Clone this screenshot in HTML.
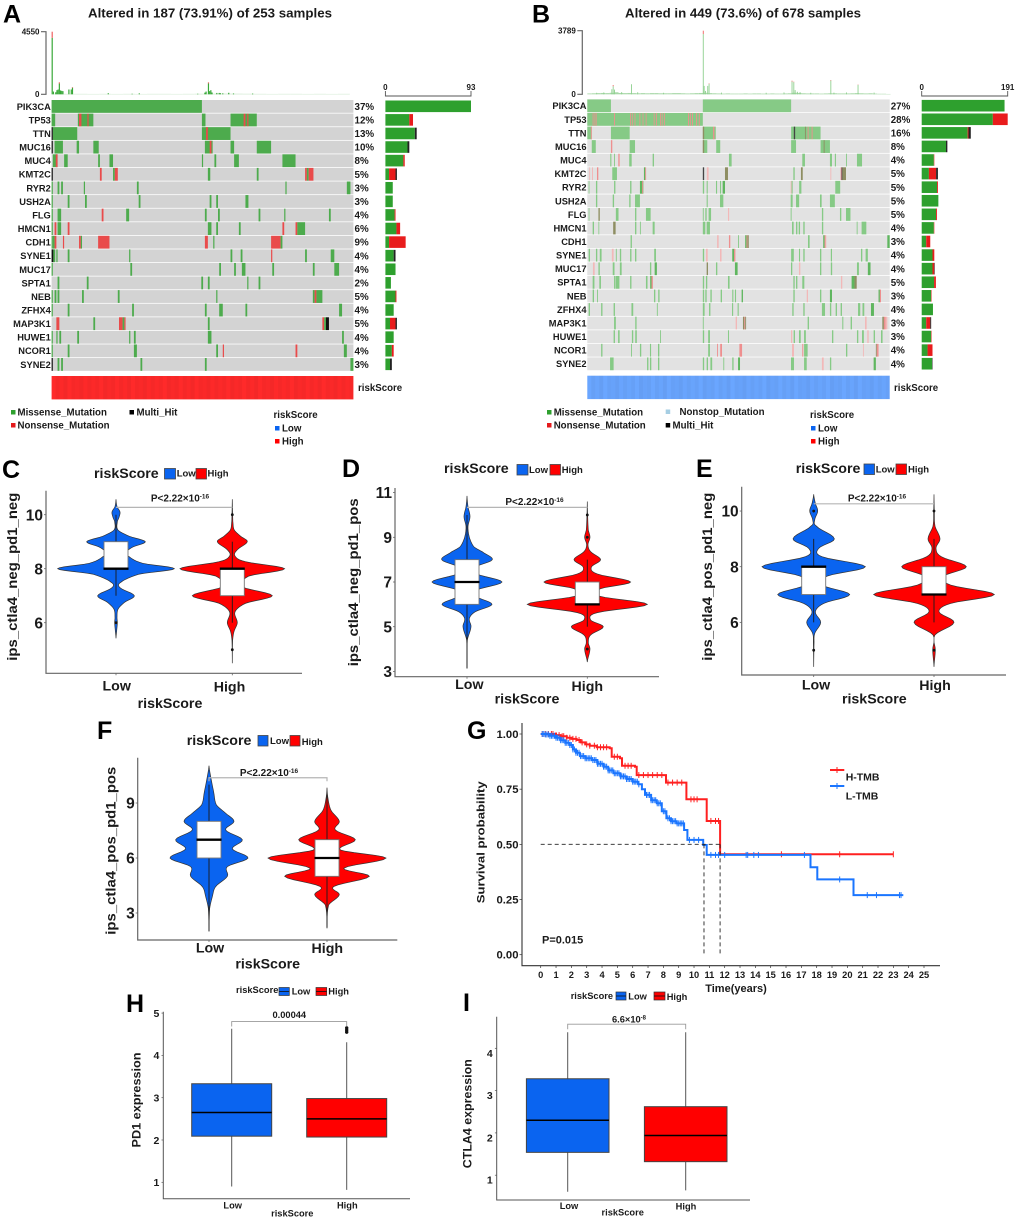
<!DOCTYPE html>
<html lang="en">
<head>
<meta charset="utf-8">
<title>Mutation landscape, immunophenoscore, survival and checkpoint expression by riskScore</title>
<style>
html,body{margin:0;padding:0;background:#fff;}
svg{display:block;filter:blur(.3px);}
text{font-family:"Liberation Sans",sans-serif;font-weight:bold;fill:#1a1a1a;}
.letter{font-size:25px;fill:#000;}
.title{font-size:12.5px;}
.lg{font-size:9.7px;}
.vt{font-size:14.2px;}
.vk{font-size:9.5px;}
.vp{font-size:10px;}
.vx{font-size:14.2px;}
.bk{font-size:9.3px;}
</style>
</head>
<body>
<svg id="figure" width="1020" height="1221" viewBox="0 0 1020 1221" xmlns="http://www.w3.org/2000/svg">
<rect x="0" y="0" width="1020" height="1221" fill="#fff"/>
<g id="marks"></g>

<text class="letter" x="3" y="22.5">A</text>
<text class="letter" x="532" y="22.5">B</text>
<text class="letter" x="2" y="478">C</text>
<text class="letter" x="342" y="477">D</text>
<text class="letter" x="696" y="477">E</text>
<text class="letter" x="97" y="739">F</text>
<text class="letter" x="467" y="739">G</text>
<text class="letter" x="126" y="1012">H</text>
<text class="letter" x="463" y="1011">I</text>

<text class="title" x="88" y="17.5" textLength="244" lengthAdjust="spacingAndGlyphs">Altered in 187 (73.91%) of 253 samples</text>
<text class="title" x="625" y="17.5" textLength="236" lengthAdjust="spacingAndGlyphs">Altered in 449 (73.6%) of 678 samples</text>

<g>
<text class="lg" x="358" y="391">riskScore</text>
<rect x="11" y="410" width="4.5" height="4.5" fill="#2ea02e"/>
<text class="lg" x="17.5" y="415.5">Missense_Mutation</text>
<rect x="11" y="423" width="4.5" height="4.5" fill="#e41a1c"/>
<text class="lg" x="17.5" y="428.5">Nonsense_Mutation</text>
<rect x="129.5" y="410" width="4.5" height="4.5" fill="#000"/>
<text class="lg" x="136.5" y="415.5">Multi_Hit</text>
<text class="lg" x="273.5" y="418">riskScore</text>
<rect x="275" y="426" width="4.5" height="4.5" fill="#0a64f0"/>
<text class="lg" x="282" y="431.5">Low</text>
<rect x="275" y="439" width="4.5" height="4.5" fill="#ff0000"/>
<text class="lg" x="282" y="444.5">High</text>
</g>

<g>
<text class="lg" x="894" y="391">riskScore</text>
<rect x="547" y="410" width="4.5" height="4.5" fill="#2ea02e"/>
<text class="lg" x="553.7" y="415.5">Missense_Mutation</text>
<rect x="547" y="423" width="4.5" height="4.5" fill="#e41a1c"/>
<text class="lg" x="553.7" y="428.5">Nonsense_Mutation</text>
<rect x="665.7" y="409.5" width="4.5" height="4.5" fill="#a6cee3"/>
<text class="lg" x="679.5" y="415">Nonstop_Mutation</text>
<rect x="665.7" y="423" width="4.5" height="4.5" fill="#000"/>
<text class="lg" x="672.5" y="428.5">Multi_Hit</text>
<text class="lg" x="810" y="418">riskScore</text>
<rect x="811" y="426" width="4.5" height="4.5" fill="#0a64f0"/>
<text class="lg" x="818" y="431.5">Low</text>
<rect x="811" y="439" width="4.5" height="4.5" fill="#ff0000"/>
<text class="lg" x="818" y="444.5">High</text>
</g>

<!-- Panel C -->
<g>
<text class="vt" x="94" y="478">riskScore</text>
<rect x="164.5" y="468.5" width="11" height="10.5" fill="#0a64f0" stroke="#444" stroke-width=".8"/>
<text class="vk" x="176.7" y="476.5">Low</text>
<rect x="196" y="468.5" width="10.5" height="10.5" fill="#f00" stroke="#444" stroke-width=".8"/>
<text class="vk" x="207.5" y="476.5">High</text>
<text class="vp" x="180" y="501.5" text-anchor="middle">P&lt;2.22×10<tspan dy="-3" font-size="6.5">-16</tspan></text>
<text class="vx" x="116.7" y="690.5" text-anchor="middle">Low</text>
<text class="vx" x="229.5" y="691.5" text-anchor="middle">High</text>
<text class="vx" x="170" y="708" text-anchor="middle">riskScore</text>
<text class="vx" transform="translate(17,576.7) rotate(-90)" text-anchor="middle" textLength="168" lengthAdjust="spacingAndGlyphs">ips_ctla4_neg_pd1_neg</text>
</g>

<!-- Panel D -->
<g>
<text class="vt" x="444" y="473">riskScore</text>
<rect x="517" y="464.5" width="11" height="10.5" fill="#0a64f0" stroke="#444" stroke-width=".8"/>
<text class="vk" x="529" y="473">Low</text>
<rect x="550" y="464.5" width="10.5" height="10.5" fill="#f00" stroke="#444" stroke-width=".8"/>
<text class="vk" x="561.7" y="473">High</text>
<text class="vp" x="534.5" y="505" text-anchor="middle">P&lt;2.22×10<tspan dy="-3" font-size="6.5">-16</tspan></text>
<text class="vx" x="469.3" y="689" text-anchor="middle">Low</text>
<text class="vx" x="587.3" y="691" text-anchor="middle">High</text>
<text class="vx" x="527" y="703.5" text-anchor="middle">riskScore</text>
<text class="vx" transform="translate(358,582.3) rotate(-90)" text-anchor="middle" textLength="168" lengthAdjust="spacingAndGlyphs">ips_ctla4_neg_pd1_pos</text>
</g>

<!-- Panel E -->
<g>
<text class="vt" x="795.7" y="473">riskScore</text>
<rect x="864" y="464" width="10.5" height="10.5" fill="#0a64f0" stroke="#444" stroke-width=".8"/>
<text class="vk" x="875.7" y="472.5">Low</text>
<rect x="896" y="464" width="10.5" height="10.5" fill="#f00" stroke="#444" stroke-width=".8"/>
<text class="vk" x="908" y="472.5">High</text>
<text class="vp" x="877" y="501.5" text-anchor="middle">P&lt;2.22×10<tspan dy="-3" font-size="6.5">-16</tspan></text>
<text class="vx" x="816" y="689.5" text-anchor="middle">Low</text>
<text class="vx" x="935" y="690" text-anchor="middle">High</text>
<text class="vx" x="874.3" y="703.5" text-anchor="middle">riskScore</text>
<text class="vx" transform="translate(712,576.7) rotate(-90)" text-anchor="middle" textLength="168" lengthAdjust="spacingAndGlyphs">ips_ctla4_pos_pd1_neg</text>
</g>

<!-- Panel F -->
<g>
<text class="vt" x="186.7" y="745">riskScore</text>
<rect x="258" y="735.5" width="10" height="10.5" fill="#0a64f0" stroke="#444" stroke-width=".8"/>
<text class="vk" x="270" y="744">Low</text>
<rect x="290" y="735.5" width="10" height="10.5" fill="#f00" stroke="#444" stroke-width=".8"/>
<text class="vk" x="301.7" y="745">High</text>
<text class="vp" x="269" y="776" text-anchor="middle">P&lt;2.22×10<tspan dy="-3" font-size="6.5">-16</tspan></text>
<text class="vx" x="210" y="952.5" text-anchor="middle">Low</text>
<text class="vx" x="327.3" y="953" text-anchor="middle">High</text>
<text class="vx" x="267.7" y="968.5" text-anchor="middle">riskScore</text>
<text class="vx" transform="translate(115.5,850.7) rotate(-90)" text-anchor="middle" textLength="168" lengthAdjust="spacingAndGlyphs">ips_ctla4_pos_pd1_pos</text>
</g>

<!-- Panel G -->
<g>
<text x="736" y="992" font-size="11" text-anchor="middle">Time(years)</text>
<text transform="translate(484.5,842.3) rotate(-90)" font-size="11" text-anchor="middle" textLength="122" lengthAdjust="spacingAndGlyphs">Survival probability</text>
<text x="542" y="943.3" font-size="11">P=0.015</text>
<text x="845.7" y="780.7" font-size="10.5">H-TMB</text>
<text x="845.7" y="799.3" font-size="10.5">L-TMB</text>
</g>

<!-- Panel H -->
<g>
<text class="bk" x="236" y="993">riskScore</text>
<rect x="279" y="987.5" width="10.3" height="8" fill="#0a64f0" stroke="#333" stroke-width=".7"/>
<line x1="279" x2="289.3" y1="991.5" y2="991.5" stroke="#111" stroke-width=".8"/>
<text class="bk" x="291.7" y="994.5">Low</text>
<rect x="316" y="987.5" width="10.7" height="8" fill="#f00" stroke="#333" stroke-width=".7"/>
<line x1="316" x2="326.7" y1="991.5" y2="991.5" stroke="#111" stroke-width=".8"/>
<text class="bk" x="328.3" y="994.5">High</text>
<text class="bk" x="289.3" y="1018" text-anchor="middle">0.00044</text>
<text class="bk" x="232.7" y="1208.5" text-anchor="middle">Low</text>
<text class="bk" x="347.3" y="1208.5" text-anchor="middle">High</text>
<text class="bk" x="292.3" y="1216.5" text-anchor="middle">riskScore</text>
<text transform="translate(140.5,1100) rotate(-90)" font-size="11.5" text-anchor="middle" textLength="95" lengthAdjust="spacingAndGlyphs">PD1 expression</text>
</g>

<!-- Panel I -->
<g>
<text class="bk" x="570.7" y="999">riskScore</text>
<rect x="616" y="992" width="10" height="8" fill="#0a64f0" stroke="#333" stroke-width=".7"/>
<line x1="616" x2="626" y1="996" y2="996" stroke="#111" stroke-width=".8"/>
<text class="bk" x="628.3" y="999.5">Low</text>
<rect x="654" y="992" width="11" height="8" fill="#f00" stroke="#333" stroke-width=".7"/>
<line x1="654" x2="665" y1="996" y2="996" stroke="#111" stroke-width=".8"/>
<text class="bk" x="666.7" y="1000">High</text>
<text class="bk" x="629" y="1022.5" text-anchor="middle">6.6×10<tspan dy="-3" font-size="6">-8</tspan></text>
<text class="bk" x="569" y="1209" text-anchor="middle">Low</text>
<text class="bk" x="686" y="1209.5" text-anchor="middle">High</text>
<text class="bk" x="622.7" y="1215.5" text-anchor="middle">riskScore</text>
<text transform="translate(471.5,1113.7) rotate(-90)" font-size="12" text-anchor="middle" textLength="109" lengthAdjust="spacingAndGlyphs">CTLA4 expression</text>
</g>
</svg>

<script>
// ---------- Oncoplot data ----------
const genes = ['PIK3CA','TP53','TTN','MUC16','MUC4','KMT2C','RYR2','USH2A','FLG','HMCN1','CDH1','SYNE1','MUC17','SPTA1','NEB','ZFHX4','MAP3K1','HUWE1','NCOR1','SYNE2'];
const pctA = ['37%','12%','13%','10%','8%','5%','3%','3%','4%','6%','9%','4%','4%','2%','5%','4%','5%','4%','4%','3%'];
const pctB = ['27%','28%','16%','8%','4%','5%','5%','5%','5%','4%','3%','4%','4%','5%','3%','4%','3%','3%','4%','4%'];
const samplesA = 253;
const samplesB = 678;
// per-gene alteration counts: [missense, nonsense, multi-hit]
const countsA = [[93,0,0],[26,4,0],[32,0,2],[24,0,2],[19.5,1.5,0],[4,7,1.5],[8,0,0],[8,0,0],[10,1,0],[12,4,0],[4,18,0],[9,0,2],[11,0,0],[6,0,0],[11,1,0],[9,0,0],[5,6,1.5],[9,0,0],[7,2,0],[5,0,2]];
const countsB = [[184,0,0],[158,33,0],[102,2,5],[54,0,3],[27,1,0],[16,16,4],[34,2,0],[37,0,0],[32,2,0],[27,1,0],[10,9,0],[24,4,0],[24,4,1],[27.5,4,0],[21,1,0],[25,0,0],[10,9,2],[21,1,0],[13,11,0],[23,0,1]];
// sample spans per gene: [first, last, type]; type 0 missense, 1 nonsense, 2 multi-hit, 3 faint nonsense, 4 mixed, 5 strong missense
const segmentsA = [
[[0,126]],
[[0,3],[22,35],[23,25,1],[30,31,1],[126,129],[150,172],[161,162.5,1],[164,165,1]],
[[1,21.5],[0,1,2],[126,150],[129.5,131,1]],
[[0,1,2],[2.5,9.5],[21,23],[35,39.5],[128.5,135],[132.5,134,1],[150,153],[172,184]],
[[1,5],[3.5,5,1],[10.5,13.5],[39,40.5],[48.5,51.5],[126,127],[136.5,138],[153,157],[193.5,204.5]],
[[0,1,2],[40.5,42,1],[51.5,53],[53,55.5,1],[131,133],[172,173.5],[212.5,214,1],[214,215.5],[215.5,219.5,1]],
[[0,1],[5,6.5],[8,9.5],[27,28],[71.5,73],[196,197],[247.5,250.5]],
[[0,1],[13.5,15],[28,29.5],[73,74.5],[132.5,134],[138,139.5],[162.5,165]],
[[0,1],[5,8],[42,43.5,1],[62.5,65],[128.5,130],[139.5,141],[173.5,175],[195,196],[232.5,234]],
[[0,1],[2.5,4,1],[5,8],[13.5,15,1],[131,134],[138,139.5],[157,158.5],[193.5,195,1],[204.5,206,1],[206,212.5]],
[[0,1],[1,2.5],[2.5,4,1],[9.5,10.5,1],[23,24.5,1],[24.5,25.5],[39,48.5,1],[128.5,131,1],[135.5,136.5],[184,192,1],[192,193.5]],
[[0,1.5,2],[1.5,3],[4,5],[13.5,15],[65,66],[150,151.5],[158.5,160],[184,185,1],[212.5,214],[234,237]],
[[0,1],[66,67.5],[140.5,142],[153,154.5],[159.5,162.5],[185,186.5],[219,220.5],[237,241]],
[[5,6.5],[29.5,31],[125.5,127],[131,132.5],[164,165],[173.5,175]],
[[0,1],[2.5,4],[5,6.5],[25.5,27],[55.5,57],[138,139],[219,220.5],[220.5,222,1],[222,227]],
[[0,1],[13.5,15],[67.5,69],[128.5,130],[140.5,143.5],[162.5,164],[241,243.5]],
[[4,6.5,1],[35,36.5],[56.5,59.5,1],[59.5,61],[61,62,1],[131,132.5],[227,228.5,1],[228.5,230],[230,232.5,2]],
[[0,1],[4,5],[6.5,8],[21.5,23],[65,66],[69,70.5],[131,134],[243.5,245]],
[[0,1],[13.5,15],[69,71.5],[138,139.5],[143.5,144.5,1],[204.5,206,1],[245,247.5]],
[[0,1,2],[5,6.5],[8,9.5],[74.5,76],[128.5,130],[250.5,253]]
];
const segmentsB = [
[[0,53],[259,457]],
[[0,259],[12,13.5,1],[16,17.5,1],[19,20.5,1],[60,62,1],[96,97.5,1],[100,101.5,1],[106,107.5,1],[117,118.5,1],[124,125.5,1],[131,132.5,1],[149,150.5,1],[154,155.5,1],[163,164.5,1],[167,168.5,1],[172,173.5,1],[226,228,1],[230,232,1],[235,237,1],[244,246,1],[250,252,1]],
[[0,10],[8,10,1],[53,95],[259,288],[259,262,4],[282,285,1],[457,523],[463,466,2],[488,490,4],[494,496,1],[503,505,1]],
[[10,19],[53,56,1],[95,107],[259,269],[259,262,4],[289,298],[457,468],[523,544],[530,532,4]],
[[51.5,54],[60,62],[69.5,72.5,1],[94,99.5],[146.5,149.5],[317.6,323.6],[482,488],[544,548.6],[555,557.5],[580,582],[604.6,616]],
[[4.5,6,3],[10.5,12.7,3],[21.7,24.7,1],[56,66.5],[127,130,5],[130,131.5,1],[259,262,2],[268,272,3],[308.7,315.4,4],[462,465],[479,483,4],[545,547,3],[568,570,1],[570,572,2],[572,580,4]],
[[3,4.5],[19.4,22.4],[60,63],[96,99],[118,125.6,5],[123,125,1],[259,262],[267.6,270],[288.5,291],[297.5,300],[303.4,308.7,5],[456,458,3],[458,460.4],[475,480],[556,567]],
[[19.4,22.4],[57,60],[94,97],[107,118],[267.6,270],[297.5,305],[456,460.4],[468,475],[521.7,525.4],[544,555]],
[[3,4.5],[25,28,4],[64,70],[107,110],[131.5,142],[259,261],[264.6,267.6],[272,277.5],[315.4,318,3],[456,458],[526,529],[566.5,569.5],[580,590]],
[[12,15],[25,26],[58,63.5,4],[107,110],[118,120],[146.5,151],[259,264.6],[267.6,275],[459,462.6],[468,471],[474,477],[484.3,487.3],[526,529],[604,606],[615,625.6]],
[[97,100],[291,294.5,3],[317.6,320.6,1],[338,340],[354,357,5],[357,359,1],[359,362,4],[494.8,498.5],[529,532,5],[532,534,1],[534,535,3],[672.7,678,5]],
[[3,6],[19.4,22.4],[28,32],[55,59,3],[64,66],[73,76],[96,99],[107,110],[150,154],[259,262],[266,270,3],[297.5,301,3],[325,329,5],[329,332,1],[457,463],[474.6,477],[484.3,487.3],[521.7,524.7],[546,548.6],[613.6,616.6],[624,629]],
[[12.7,16.5,3],[25,28],[57,61],[73,77],[140.5,143.5],[151,156,5],[267.6,270.6,4],[288.5,291.5],[331,337,5],[456.7,459.6],[474.6,477.6,3],[521.7,524.7],[546,549],[604.6,609],[629,635,5]],
[[12,16],[27,30.6],[60,63],[64,72],[96,99],[131.5,135],[141,144,5],[144,147,1],[259,262],[266,269],[315.4,319],[462,465],[468,471],[482,486.6],[568.7,571.7,3],[592.6,599,5],[599,604,4]],
[[12,15],[22,24],[149.5,152.5],[159,162],[259,262],[264.6,267.6],[276,279],[299,302],[325,327.5],[331,333.5],[346,349,5],[462,465],[492,494.8,3],[521.7,524.7],[544,548.6,5],[653,656,5],[656,658.5,1]],
[[3,6],[31,34],[59,62],[99,103],[156,158],[259,263],[273,276],[324.5,327],[337,339.5],[459.6,462.6],[484.3,487.3],[526,533],[544,547],[556.8,559.8],[568,571],[607,612],[617,621],[636,642.7,5]],
[[60,64],[107.5,110.5],[259,261],[332.6,335.6,3],[349,352,4],[352,354,1],[354,356,4],[494,497],[571.7,574],[590.4,593.4],[622.6,626.3,3],[661.5,665,4],[665,669,1],[669,672.7,3]],
[[59,62],[69,72.5],[100,103],[107.5,111],[163,165],[259,262],[271,275],[315.4,317.6],[456.7,459.6,3],[462.6,465.6],[474.6,478.5],[486,490],[548.6,551.6],[604.6,607.6],[616,620],[627.8,630.8,3],[642,645],[658.5,662]],
[[31,34],[98,100],[118,121],[140.5,143],[158.5,161.5],[271,275],[291,293,1],[298,302,1],[341,347,1],[459,463.4,3],[482,484.3,1],[486,494],[580,583],[618,620,3],[647,649,4],[649,653,1]],
[[51,59],[134,137],[140.5,143.5],[158.5,161.5],[259,262],[267.6,270.6],[276,280],[305,307],[325,328],[338,342.4,5],[456.7,463.4],[486,492],[526,530,3],[544,547],[642,647,5]]
];
// mutation burden: notable samples [sample, missense, nonsense], background per 10 samples
const tmbPeaksA = [[0,4100,450],[1,200,0],[3,150,0],[4,300,0],[5,350,0],[6,780,90],[7,280,0],[8,250,0],[9,230,0],[14,350,0],[16,350,0],[17,480,40],[47,80,0],[67,40,0],[73,70,0],[122,40,0],[128,120,0],[129,200,0],[131,790,80],[132,230,0],[133,300,0],[134,130,0],[138,100,0],[140,100,0],[141,80,0],[143,70,0],[148,110,0],[152,60,0],[168,50,0]];
const tmbBackgroundA = [40,30,30,25,30,25,30,25,30,30,25,30,35,40,45,40,35,30,25,30,30,25,30,25,30];
const tmbPeaksB = [[259,3590,200],[261,500,0],[264,200,0],[269,500,0],[272,620,30],[57,480,70],[54,300,0],[60,280,0],[98,600,0],[458,760,50],[462,720,30],[465,250,0],[470,150,0],[476,130,0],[545,820,30],[606,560,20],[552,100,0],[642,100,0],[20,90,0],[36,110,0],[76,130,0],[112,120,0],[170,90,0],[300,100,0],[400,90,0],[440,110,0],[500,90,0],[580,110,0]];
const tmbBackgroundB = [50,60,70,80,70,90,120,80,70,80,70,60,70,60,70,70,60,60,60,70,70,60,50,60,70,80,90,70,60,50,40,50,40,40,40,50,40,50,50,40,40,50,40,40,50,60,90,80,60,50,50,50,40,50,60,60,50,50,50,60,70,60,50,60,40,30,30,20];
const tmbMaxA = 4550;
const tmbMaxB = 3789;
const riskStripes = [0.00,0.06,0.02,0.07,0.00,0.05,0.03,0.07,0.01,0.06,0.02,0.05,0.00,0.07,0.03,0.06];

// ---------- Violin data: value knots, density at each knot, box stats [q1, median, q3, whisker low, whisker high], outliers ----------
const cTicks = [6,8,10];
const cLowV = [10.57,10.3,10.1,9.9,9.74,9.43,9.2,9,8.8,8.6,8.44,8.2,8,7.8,7.5,7.3,7,6.75,6.5,6.2,6,5.7,5.42];
const cLowD = [0,3,12,9,4,6,40,88,50,30,40,80,175,70,15,12,55,25,6,3,4,2,0];
const cLowBox = [8,8,9,7,10];
const cLowOut = [6];
const cHighV = [10.57,10,9.7,9.43,9.2,9,8.7,8.47,8.26,8,7.73,7.33,7,6.72,6.4,6,5.67,5.35,4.5];
const cHighD = [0,1,2,6,25,45,15,8,40,157,50,30,120,40,8,15,5,1,0];
const cHighBox = [7,8,8,6,9];
const cHighOut = [10,5];

const dTicks = [3,5,7,9,11];
const dLowV = [10.85,10.37,9.93,9.48,9,8.58,8.36,8,7.66,7.36,7,6.64,6.34,6,5.67,5.37,5,4.4,3.13];
const dLowD = [0,3,9,3,7,20,45,76,25,30,105,30,30,75,25,7,12,1,0];
const dLowBox = [6,7,8,3.13,10];
const dLowOut = [];
const dHighV = [10.6,10,9.33,9,8.66,8.36,8,7.66,7.36,7,6.7,6.37,6,5.63,5.3,5,4.63,4.3,4,3.42];
const dHighD = [0,1,3,8,2,10,40,12,30,130,40,35,180,30,10,48,10,3,8,0];
const dHighBox = [6,6,7,5,8];
const dHighOut = [4,9,10];

const eTicks = [6,8,10];
const eLowV = [10.6,10.27,10,9.68,9.46,9,8.66,8.36,8,7.66,7.34,7,6.68,6.38,6,5.6,5.25,4.4];
const eLowD = [0,5,12,3,8,62,15,25,155,40,25,108,30,5,21,3,1,0];
const eLowBox = [7,8,8,6,9];
const eLowOut = [10,5];
const eHighV = [10.6,10,9.46,9,8.66,8.36,8,7.66,7.34,7,6.68,6.38,6,5.55,5,4.4];
const eHighD = [0,1,3,18,6,22,97,30,50,181,50,15,60,3,4,0];
const eHighBox = [7,7,8,6,9];
const eHighOut = [10,5];

const fTicks = [3,6,9];
const fLowV = [11.04,10.35,9.6,8.9,8.44,8,7.53,7,6.5,6,5.53,5,4.44,3.9,3.25,2];
const fLowD = [0,6,14,22,50,75,50,100,70,117,55,55,20,10,2,0];
const fLowBox = [6,7,8,2,10];
const fLowOut = [];
const fHighV = [9.84,9.25,8.6,8,7.53,7,6.44,6,5.44,5,4.44,4,3.44,2.16];
const fHighD = [0,3,12,37,25,85,40,177,50,127,20,37,5,0];
const fHighBox = [5,6,7,2.2,9.5];
const fHighOut = [];

// ---------- Survival data ----------
const kmXTicks = [0,1,2,3,4,5,6,7,8,9,10,11,12,13,14,15,16,17,18,19,20,21,22,23,24,25];
const kmYTicks = ['0.00','0.25','0.50','0.75','1.00'];
const hTimes = [0,1,1.3,1.7,2,2.35,2.6,2.9,3.2,3.65,4.5,4.63,5.17,5.3,6.15,6.26,8.17,9.5,10.83,11.7,23];
const hSurv = [1,0.995,0.99,0.983,0.978,0.973,0.962,0.953,0.947,0.94,0.935,0.897,0.89,0.856,0.852,0.814,0.78,0.704,0.606,0.455,0.455];
const hCensor = [0.1,0.3,0.5,0.7,0.8,1,1.2,1.4,1.5,1.7,1.9,2.1,2.3,2.5,2.7,3,3.2,3.5,3.7,3.9,4.1,4.3,4.8,5,5.5,5.7,5.9,6.4,6.7,7,7.3,7.6,7.9,8.3,8.6,8.9,9.2,9.8,10,10.2,11.1,11.4,11.6,15.7,19.5,23];
const lTimes = [0,0.3,0.6,1,1.3,1.6,1.9,2.1,2.3,2.56,2.9,3.33,3.7,4.1,4.4,4.74,5.2,5.6,6,6.37,6.6,6.8,7.2,7.57,7.9,8.2,8.5,8.87,9.35,9.57,10.6,10.83,17.6,18.04,20.4,23.65];
const lSurv = [1,0.998,0.992,0.983,0.972,0.96,0.95,0.93,0.915,0.9,0.89,0.882,0.865,0.852,0.835,0.822,0.808,0.796,0.784,0.772,0.75,0.724,0.7,0.686,0.65,0.618,0.605,0.595,0.565,0.52,0.497,0.452,0.396,0.341,0.27,0.27];
const lCensor = [0.1,0.2,0.3,0.4,0.5,0.6,0.7,0.8,0.9,1,1.1,1.2,1.3,1.4,1.5,1.6,1.7,1.8,1.9,2,2.1,2.2,2.3,2.4,2.5,2.6,2.7,2.8,2.9,3,3.1,3.2,3.3,3.4,3.5,3.6,3.7,3.8,3.9,4,4.1,4.2,4.3,4.4,4.5,4.6,4.7,4.8,4.9,5,5.1,5.2,5.3,5.4,5.5,5.6,5.7,5.8,5.9,6,6.1,6.2,6.3,6.4,6.9,7,7.1,7.2,7.3,7.4,7.5,7.6,7.7,7.8,8,8.1,8.3,8.4,8.5,8.6,8.7,8.8,8.9,9,9.1,9.2,9.3,9.7,10,10.3,11.1,11.4,11.6,12,13.4,13.5,13.9,14.2,17.2,19.5,21.3,21.9,23.4,23.5];
const medianTimes = [10.65,11.7];

// ---------- Box plot data: [q1, median, q3, whisker low, whisker high] ----------
const hTicks = [1,2,3,4,5];
const hLowBoxStats = [2.09,2.65,3.33,0.9,4.63];
const hHighBoxStats = [2.07,2.5,2.98,0.82,4.31];
const hHighOutliers = [4.55,4.6,4.65];
const iTicks = [1,2,3,4];
const iLowBoxStats = [1.54,2.3,3.28,0.61,4.38];
const iHighBoxStats = [1.32,1.94,2.62,0.64,4.38];

// ---------- Drawing ----------
const SVGNS = 'http://www.w3.org/2000/svg';
const root = document.getElementById('marks');
function mk(tag, name, attrs, parent) {
  const el = document.createElementNS(SVGNS, tag);
  
  
  for (const k in attrs) el.setAttribute(k, attrs[k]);
  (parent || root).appendChild(el);
  return el;
}
function label(str, name, attrs, parent) {
  const el = mk('text', name, attrs, parent);
  el.textContent = str;
  return el;
}
function linear(d0, d1, r0, r1) {
  return v => r0 + (v - d0) * (r1 - r0) / (d1 - d0);
}

function drawOncoplot(o) {
  const g = mk('g', o.name, {});
  const x = linear(0, o.samples, o.x0, o.x1);
  const rowY = i => o.y0 + i * 13.58;
  genes.forEach((gene, i) => {
    const y = rowY(i);
    mk('rect', 'row-background-' + gene, {x:o.x0, y:y, width:o.x1 - o.x0, height:12.8, fill:o.bg}, g);
    o.segments[i].forEach(s => {
      const t = s[2] || 0;
      mk('rect', 'mutation-' + gene, {x:x(s[0]), y:y, width:Math.max(x(s[1]) - x(s[0]), 0.8), height:12.8, fill:o.palette[t]}, g);
    });
    label(gene, 'gene-label-' + gene, {x:o.x0 - 0.8, y:y + 9.8, 'font-size':9.3, 'text-anchor':'end'}, g);
    label(o.pct[i], 'gene-percent-' + gene, {x:o.pctX, y:y + 9.9, 'font-size':9.8}, g);
    // side counts
    const bx = linear(0, o.countMax, o.barX0, o.barX1);
    let acc = 0;
    o.counts[i].forEach((c, k) => {
      if (!c) return;
      mk('rect', 'gene-count-bar-' + gene, {x:bx(acc), y:y + 0.5, width:bx(acc + c) - bx(acc), height:11.6, fill:['#2ea02e','#e81c1c','#222'][k]}, g);
      acc += c;
    });
  });
  // top burden
  const ty = linear(0, o.tmbMax, 94.3, o.tmbTop);
  const w = (o.x1 - o.x0) / o.samples;
  o.background.forEach((v, bin) => {
    mk('rect', 'burden-background', {x:x(bin * 10), y:ty(v), width:10 * w, height:94.3 - ty(v), fill:o.bgBar}, g);
  });
  o.peaks.forEach(p => {
    mk('rect', 'burden-missense', {x:x(p[0]), y:ty(p[1]), width:Math.max(w, 0.9), height:94.3 - ty(p[1]), fill:o.peakFill}, g);
    if (p[2]) mk('rect', 'burden-nonsense', {x:x(p[0]), y:ty(p[1] + p[2]), width:Math.max(w, 0.9), height:ty(p[1]) - ty(p[1] + p[2]), fill:'#f06060'}, g);
  });
  mk('path', 'burden-axis', {d:'M' + (o.axisX - 5) + ' ' + o.tmbTop + 'H' + o.axisX + 'V94.3H' + (o.axisX - 5), fill:'none', stroke:'#666', 'stroke-width':1.2}, g);
  label(String(o.tmbMax), 'burden-axis-max', {x:o.axisX - 6.5, y:o.tmbTop + 3, 'font-size':8, 'text-anchor':'end'}, g);
  label('0', 'burden-axis-zero', {x:o.axisX - 6.5, y:97, 'font-size':8, 'text-anchor':'end'}, g);
  // count axis
  mk('path', 'count-axis', {d:'M' + o.barX0 + ' 91V96H' + o.barX1 + 'V91', fill:'none', stroke:'#555', 'stroke-width':0.9}, g);
  label('0', 'count-axis-zero', {x:o.barX0, y:90, 'font-size':8, 'text-anchor':'middle'}, g);
  label(String(o.countMax), 'count-axis-max', {x:o.barX1, y:90, 'font-size':8, 'text-anchor':'middle'}, g);
  // risk bar
  mk('rect', 'risk-score-bar', {x:o.x0, y:o.riskY, width:o.x1 - o.x0, height:23.4, fill:o.riskFill}, g);
  const stripes = 76;
  for (let i = 0; i < stripes; i++) {
    const a = riskStripes[i % riskStripes.length];
    mk('rect', 'risk-score-stripe', {x:o.x0 + i * (o.x1 - o.x0) / stripes, y:o.riskY, width:(o.x1 - o.x0) / stripes, height:23.4, fill:'#000', opacity:a * 0.6}, g);
  }
}

drawOncoplot({name:'oncoplot-a', samples:samplesA, x0:51.6, x1:353.4, y0:100, bg:'#d3d3d3',
  palette:['#4dab4d','#e94b4b','#111','#e94b4b','#7a5a4a','#3ea03e'], segments:segmentsA, pct:pctA, pctX:354.5,
  counts:countsA, countMax:93, barX0:385.4, barX1:471, tmbMax:tmbMaxA, tmbTop:31.7, background:tmbBackgroundA, bgBar:'#c2e3c2',
  peaks:tmbPeaksA, peakFill:'#38a838', axisX:46, riskY:376, riskFill:'#ff2a2a'});
drawOncoplot({name:'oncoplot-b', samples:samplesB, x0:587.3, x1:889.7, y0:99.4, bg:'#e2e2e2',
  palette:['#86ca86','#ee8f8f','#444','#f2b8b8','#8e8e62','#5fb65f'], segments:segmentsB, pct:pctB, pctX:890.7,
  counts:countsB, countMax:191, barX0:921.7, barX1:1007.7, tmbMax:tmbMaxB, tmbTop:30.7, background:tmbBackgroundB, bgBar:'#a8d8a8',
  peaks:tmbPeaksB, peakFill:'#8fd08f', axisX:582.3, riskY:375.7, riskFill:'#6aa6ff'});

function smooth(vals, dens) {
  const out = [];
  const n = vals.length;
  for (let i = 0; i < n - 1; i++) {
    const a = Math.max(i - 1, 0), d = Math.min(i + 2, n - 1);
    for (let s = 0; s < 6; s++) {
      const t = s / 6, t2 = t * t, t3 = t2 * t;
      const cr = (p0, p1, p2, p3) => 0.5 * (2 * p1 + (p2 - p0) * t + (2 * p0 - 5 * p1 + 4 * p2 - p3) * t2 + (3 * p1 - p0 - 3 * p2 + p3) * t3);
      out.push([vals[i] + (vals[i + 1] - vals[i]) * t, Math.max(0, cr(dens[a], dens[i], dens[i + 1], dens[d]))]);
    }
  }
  out.push([vals[n - 1], dens[n - 1]]);
  return out;
}

function drawViolin(g, y, xc, vals, dens, fill, box, outliers, side) {
  const w = d => d / 3;
  const pts = smooth(vals, dens);
  const right = pts.map(p => (xc + w(p[1])).toFixed(2) + ' ' + y(p[0]).toFixed(2));
  const left = pts.slice().reverse().map(p => (xc - w(p[1])).toFixed(2) + ' ' + y(p[0]).toFixed(2));
  mk('path', 'violin-' + side, {d:'M' + right.join('L') + 'L' + left.join('L') + 'Z', fill:fill, stroke:'#333', 'stroke-width':0.7}, g);
  mk('line', 'whisker-' + side, {x1:xc, x2:xc, y1:y(box[3]), y2:y(box[4]), stroke:'#1a1a1a', 'stroke-width':0.9}, g);
  mk('rect', 'box-' + side, {x:xc - 12, y:y(box[2]), width:24, height:y(box[0]) - y(box[2]), fill:'#fff', stroke:'#777', 'stroke-width':0.9}, g);
  mk('line', 'median-' + side, {x1:xc - 12.5, x2:xc + 12.5, y1:y(box[1]), y2:y(box[1]), stroke:'#000', 'stroke-width':2.3}, g);
  outliers.forEach(v => mk('circle', 'outlier-' + side, {cx:xc, cy:y(v), r:1.4, fill:'#111'}, g));
}

function drawViolinPanel(p) {
  const g = mk('g', p.name, {});
  const y = linear(p.refV, p.refV + 1, p.refY, p.refY - p.unit);
  drawViolin(g, y, p.xLow, p.lowV, p.lowD, '#0a64f0', p.lowBox, p.lowOut, 'low');
  drawViolin(g, y, p.xHigh, p.highV, p.highD, '#ff0000', p.highBox, p.highOut, 'high');
  mk('path', 'y-axis', {d:'M' + p.axisX + ' ' + p.axisTop + 'V' + p.axisBottom + 'H' + p.axisRight, fill:'none', stroke:'#666', 'stroke-width':1.2}, g);
  p.ticks.forEach(t => {
    mk('line', 'y-tick-mark', {x1:p.axisX - 2, x2:p.axisX, y1:y(t), y2:y(t), stroke:'#666', 'stroke-width':0.8}, g);
    label(String(t), 'y-tick-label', {x:p.axisX - 3, y:y(t) + 5.6, 'font-size':15.5, 'text-anchor':'end'}, g);
  });
  [p.xLow, p.xHigh].forEach(xc => mk('line', 'x-tick-mark', {x1:xc, x2:xc, y1:p.axisBottom, y2:p.axisBottom + 2, stroke:'#666', 'stroke-width':0.8}, g));
  const by = y(p.bracket);
  const d = 'M' + p.xLow + ' ' + (by + p.drop) + 'V' + by + 'H' + p.xHigh + 'V' + (by + p.drop);
  mk('path', 'significance-bracket', {d:d, fill:'none', stroke:'#b5b5b5', 'stroke-width':1.2}, g);
}

drawViolinPanel({name:'violin-c', refV:8, refY:568.7, unit:27, xLow:116, xHigh:232.3, axisX:46, axisTop:490.7, axisBottom:673.3, axisRight:302, ticks:cTicks, bracket:10.27, drop:0,
  lowV:cLowV, lowD:cLowD, lowBox:cLowBox, lowOut:cLowOut, highV:cHighV, highD:cHighD, highBox:cHighBox, highOut:cHighOut});
drawViolinPanel({name:'violin-d', refV:7, refY:582, unit:22.35, xLow:467, xHigh:587.3, axisX:395, axisTop:488, axisBottom:676.7, axisRight:659, ticks:dTicks, bracket:10.34, drop:0,
  lowV:dLowV, lowD:dLowD, lowBox:dLowBox, lowOut:dLowOut, highV:dHighV, highD:dHighD, highBox:dHighBox, highOut:dHighOut});
drawViolinPanel({name:'violin-e', refV:8, refY:566.7, unit:27.83, xLow:813.7, xHigh:934, axisX:741.7, axisTop:486.7, axisBottom:675, axisRight:1006, ticks:eTicks, bracket:10.26, drop:0,
  lowV:eLowV, lowD:eLowD, lowBox:eLowBox, lowOut:eLowOut, highV:eHighV, highD:eHighD, highBox:eHighBox, highOut:eHighOut});
drawViolinPanel({name:'violin-f', refV:6, refY:858, unit:18.33, xLow:209, xHigh:327, axisX:137.7, axisTop:757.7, axisBottom:940, axisRight:397.3, ticks:fTicks, bracket:10.38, drop:3.5,
  lowV:fLowV, lowD:fLowD, lowBox:fLowBox, lowOut:fLowOut, highV:fHighV, highD:fHighD, highBox:fHighBox, highOut:fHighOut});

// Survival panel
(function () {
  const g = mk('g', 'survival-plot', {});
  const x = linear(0, 25, 540.7, 924);
  const y = linear(0, 1, 954.7, 734);
  mk('path', 'survival-axes', {d:'M522 723V965.7H940', fill:'none', stroke:'#333', 'stroke-width':1.1}, g);
  kmXTicks.forEach(t => {
    mk('line', 'x-tick-mark', {x1:x(t), x2:x(t), y1:965.7, y2:968, stroke:'#333', 'stroke-width':0.7}, g);
    label(String(t), 'x-tick-label', {x:x(t), y:978, 'font-size':9.3, 'text-anchor':'middle'}, g);
  });
  kmYTicks.forEach(t => {
    mk('line', 'y-tick-mark', {x1:519.5, x2:522, y1:y(+t), y2:y(+t), stroke:'#333', 'stroke-width':0.7}, g);
    label(t, 'y-tick-label', {x:518.5, y:y(+t) + 4, 'font-size':11.3, 'text-anchor':'end'}, g);
  });
  const step = (ts, ss) => ts.reduce((d, t, i) => d + (i ? 'H' + x(t).toFixed(1) + 'V' + y(ss[i]).toFixed(1) : 'M' + x(t).toFixed(1) + ' ' + y(ss[i]).toFixed(1)), '');
  const at = (ts, ss, t) => { let s = ss[0]; ts.forEach((u, i) => { if (u <= t) s = ss[i]; }); return s; };
  const series = [[hTimes, hSurv, hCensor, '#ff2020', 'h-tmb'], [lTimes, lSurv, lCensor, '#1a75ff', 'l-tmb']];
  series.forEach(s => {
    mk('path', 'survival-curve-' + s[4], {d:step(s[0], s[1]), fill:'none', stroke:s[3], 'stroke-width':2}, g);
    s[2].forEach(t => {
      const sy = y(at(s[0], s[1], t));
      mk('line', 'censor-mark-' + s[4], {x1:x(t), x2:x(t), y1:sy - 3, y2:sy + 3, stroke:s[3], 'stroke-width':1}, g);
    });
  });
  mk('line', 'median-line', {x1:x(0), x2:x(medianTimes[1]), y1:y(0.5), y2:y(0.5), stroke:'#222', 'stroke-width':0.9, 'stroke-dasharray':'4 3'}, g);
  medianTimes.forEach(t => mk('line', 'median-drop-line', {x1:x(t), x2:x(t), y1:y(0.5), y2:y(0), stroke:'#222', 'stroke-width':0.9, 'stroke-dasharray':'4 3'}, g));
  mk('line', 'legend-line-h-tmb', {x1:830, x2:844.3, y1:770, y2:770, stroke:'#ff2020', 'stroke-width':2}, g);
  mk('line', 'legend-censor-h-tmb', {x1:837, x2:837, y1:767, y2:773, stroke:'#ff2020', 'stroke-width':1}, g);
  mk('line', 'legend-line-l-tmb', {x1:830, x2:844.3, y1:786, y2:786, stroke:'#1a75ff', 'stroke-width':2}, g);
  mk('line', 'legend-censor-l-tmb', {x1:837, x2:837, y1:783, y2:789, stroke:'#1a75ff', 'stroke-width':1}, g);
})();

function drawBox(g, y, xc, hw, s, fill, side) {
  mk('line', 'whisker-' + side, {x1:xc, x2:xc, y1:y(s[3]), y2:y(s[4]), stroke:'#555', 'stroke-width':1}, g);
  mk('rect', 'box-' + side, {x:xc - hw, y:y(s[2]), width:2 * hw, height:y(s[0]) - y(s[2]), fill:fill, stroke:'#444', 'stroke-width':1}, g);
  mk('line', 'median-' + side, {x1:xc - hw, x2:xc + hw, y1:y(s[1]), y2:y(s[1]), stroke:'#000', 'stroke-width':1.5}, g);
}
function drawBoxPanel(p) {
  const g = mk('g', p.name, {});
  const y = linear(p.refV, p.refV + 1, p.refY, p.refY - 42.3);
  drawBox(g, y, p.xLow, p.hw, p.low, '#0a64f0', 'low');
  drawBox(g, y, p.xHigh, p.hw, p.high, '#ff0000', 'high');
  p.out.forEach(v => mk('circle', 'outlier-high', {cx:p.xHigh, cy:y(v), r:1.7, fill:'#111'}, g));
  mk('path', 'box-axes', {d:'M' + p.axisX + ' ' + p.axisTop + 'V' + p.axisBottom + 'H' + p.axisRight, fill:'none', stroke:'#555', 'stroke-width':1}, g);
  p.ticks.forEach(t => {
    mk('line', 'y-tick-mark', {x1:p.axisX - 1.8, x2:p.axisX, y1:y(t), y2:y(t), stroke:'#555', 'stroke-width':0.7}, g);
    label(String(t), 'y-tick-label', {x:p.axisX - 4, y:y(t) + p.labelDy, 'font-size':10.5, 'text-anchor':'end'}, g);
  });
  const by = y(p.bracket);
  mk('path', 'significance-bracket', {d:'M' + p.xLow + ' ' + (by + 5) + 'V' + by + 'H' + p.xHigh + 'V' + (by + 5), fill:'none', stroke:'#999', 'stroke-width':0.9}, g);
}
drawBoxPanel({name:'box-h', refV:3, refY:1097.7, xLow:231.7, xHigh:346.7, hw:40, low:hLowBoxStats, high:hHighBoxStats, out:hHighOutliers, axisX:163.3, axisTop:1011.7, axisBottom:1198.7, axisRight:410, ticks:hTicks, bracket:4.8, labelDy:3.8});
drawBoxPanel({name:'box-i', refV:4, refY:1048.3, xLow:567.7, xHigh:685.7, hw:41.3, low:iLowBoxStats, high:iHighBoxStats, out:[], axisX:496.7, axisTop:1016.7, axisBottom:1200, axisRight:750, ticks:iTicks, bracket:4.57, labelDy:8.5});
</script>
</body>
</html>
